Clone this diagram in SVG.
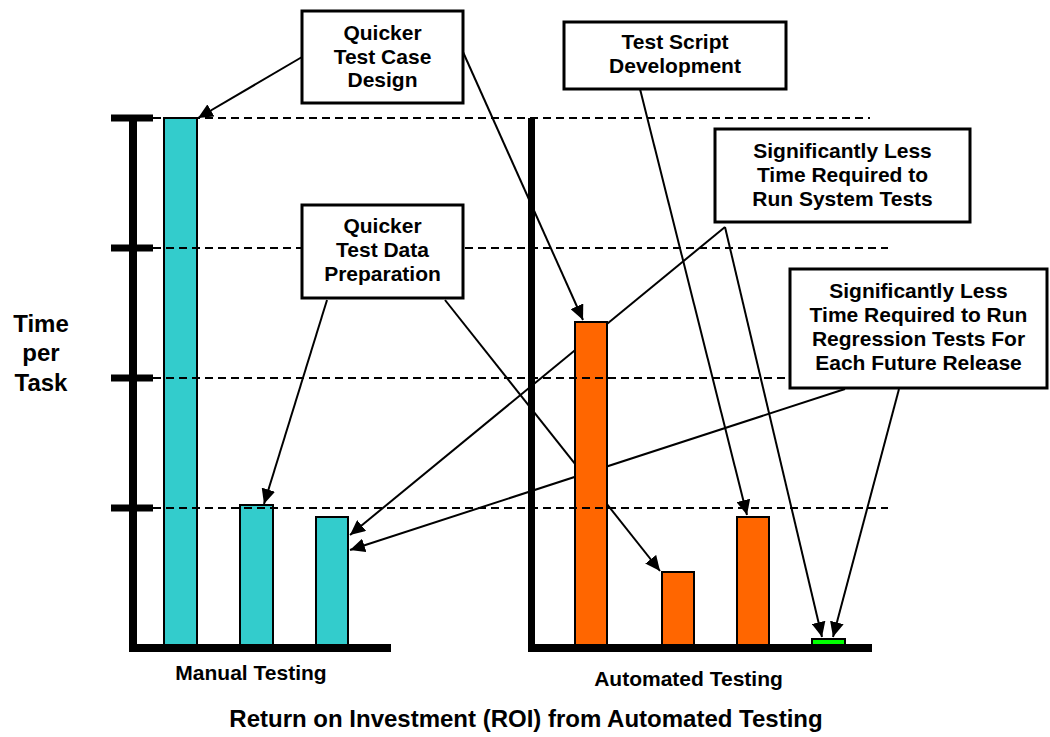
<svg xmlns="http://www.w3.org/2000/svg" width="1050" height="737" viewBox="0 0 1050 737">
  <style>
    .grid { stroke: #000; stroke-width: 1.8; stroke-dasharray: 8 5; fill: none; }
    .axis { fill: #000; }
    .bar { stroke: #000; stroke-width: 2; }
    .manual { fill: #33CCCC; }
    .auto { fill: #FF6600; }
    .tiny { fill: #00FF00; }
    .conn { stroke: #000; stroke-width: 2; fill: none; marker-end: url(#arrow); }
    .box { fill: #fff; stroke: #000; stroke-width: 3; }
    .lbl { font-family: "Liberation Sans", Arial, sans-serif; font-weight: bold; fill: #000; text-anchor: middle; }
    .boxtxt { font-size: 21px; }
  </style>
  <defs>
    <marker id="arrow" markerUnits="userSpaceOnUse" markerWidth="16" markerHeight="14" refX="15" refY="7" orient="auto">
      <path d="M0,0 L15,7 L0,14 z" fill="#000"/>
    </marker>
  </defs>

  <rect width="1050" height="737" fill="#fff"/>

  <!-- connectors (drawn beneath the bars and callout boxes) -->
  <g id="connectors">
    <line class="conn" x1="302" y1="57" x2="198" y2="118"/>
    <line class="conn" x1="463" y1="52" x2="583" y2="320"/>
    <line class="conn" x1="327" y1="300" x2="264" y2="504"/>
    <line class="conn" x1="445" y1="300" x2="660" y2="571"/>
    <line class="conn" x1="640" y1="89" x2="747" y2="515"/>
    <line class="conn" x1="725" y1="227" x2="350" y2="535"/>
    <line class="conn" x1="725" y1="227" x2="822" y2="637"/>
    <line class="conn" x1="845" y1="389" x2="350" y2="550"/>
    <line class="conn" x1="899" y1="389" x2="833" y2="637"/>
  </g>

  <!-- manual testing bars -->
  <g id="manual-bars">
    <rect class="bar manual" x="164" y="118" width="33" height="528"/>
    <rect class="bar manual" x="240" y="505" width="33" height="141"/>
    <rect class="bar manual" x="316" y="517" width="32" height="129"/>
  </g>

  <!-- automated testing bars -->
  <g id="auto-bars">
    <rect class="bar auto" x="575" y="322" width="32" height="324"/>
    <rect class="bar auto" x="662" y="572" width="32" height="74"/>
    <rect class="bar auto" x="737" y="517" width="32" height="129"/>
    <rect class="bar tiny" x="812" y="639" width="33" height="7"/>
  </g>

  <!-- dashed reference levels -->
  <g id="grid">
    <line class="grid" x1="153" y1="118" x2="870" y2="118"/>
    <line class="grid" x1="153" y1="248" x2="888" y2="248"/>
    <line class="grid" x1="153" y1="378" x2="790" y2="378"/>
    <line class="grid" x1="153" y1="508" x2="888" y2="508"/>
  </g>

  <!-- axes -->
  <g id="manual-axis">
    <rect class="axis" x="129" y="115" width="8" height="537"/>
    <rect class="axis" x="129" y="644" width="262" height="8"/>
    <rect class="axis" x="111" y="114.5" width="42" height="7"/>
    <rect class="axis" x="111" y="244.5" width="42" height="7"/>
    <rect class="axis" x="111" y="374.5" width="42" height="7"/>
    <rect class="axis" x="111" y="504.5" width="42" height="7"/>
  </g>
  <g id="auto-axis">
    <rect class="axis" x="528" y="118" width="7" height="534"/>
    <rect class="axis" x="528" y="644" width="344" height="8"/>
  </g>

  <!-- callout boxes -->
  <g id="box-test-case-design">
    <rect class="box" x="302" y="11" width="161" height="92"/>
    <text class="lbl boxtxt" x="382.5" y="40">Quicker</text>
    <text class="lbl boxtxt" x="382.5" y="63.5">Test Case</text>
    <text class="lbl boxtxt" x="382.5" y="87">Design</text>
  </g>
  <g id="box-test-data">
    <rect class="box" x="302" y="205" width="161" height="93"/>
    <text class="lbl boxtxt" x="382.5" y="233">Quicker</text>
    <text class="lbl boxtxt" x="382.5" y="257">Test Data</text>
    <text class="lbl boxtxt" x="382.5" y="281">Preparation</text>
  </g>
  <g id="box-script-dev">
    <rect class="box" x="564" y="22" width="222" height="67"/>
    <text class="lbl boxtxt" x="675" y="49">Test Script</text>
    <text class="lbl boxtxt" x="675" y="73">Development</text>
  </g>
  <g id="box-system-tests">
    <rect class="box" x="715" y="129" width="255" height="93"/>
    <text class="lbl boxtxt" x="842.5" y="158">Significantly Less</text>
    <text class="lbl boxtxt" x="842.5" y="182">Time Required to</text>
    <text class="lbl boxtxt" x="842.5" y="206">Run System Tests</text>
  </g>
  <g id="box-regression">
    <rect class="box" x="790" y="269" width="257" height="119"/>
    <text class="lbl boxtxt" x="918.5" y="298">Significantly Less</text>
    <text class="lbl boxtxt" x="918.5" y="322">Time Required to Run</text>
    <text class="lbl boxtxt" x="918.5" y="346">Regression Tests For</text>
    <text class="lbl boxtxt" x="918.5" y="370">Each Future Release</text>
  </g>

  <!-- axis and chart labels -->
  <g id="y-label">
    <text class="lbl" font-size="24" x="41" y="332">Time</text>
    <text class="lbl" font-size="24" x="41" y="361">per</text>
    <text class="lbl" font-size="24" x="41" y="391">Task</text>
  </g>
  <text id="manual-label" class="lbl" font-size="21" x="251" y="680">Manual Testing</text>
  <text id="auto-label" class="lbl" font-size="21" x="688.5" y="686">Automated Testing</text>
  <text id="title" class="lbl" font-size="24" x="526" y="727">Return on Investment (ROI) from Automated Testing</text>
</svg>
